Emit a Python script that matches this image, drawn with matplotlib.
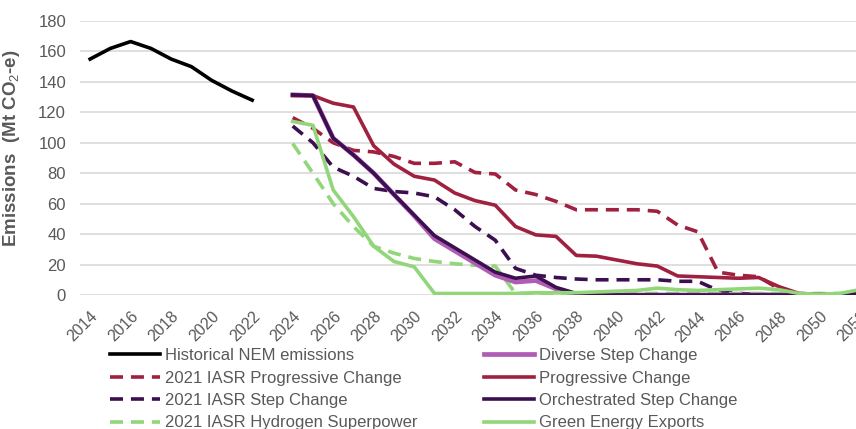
import matplotlib
matplotlib.use("Agg")
import matplotlib.pyplot as plt

plt.rcParams['font.family'] = ['Liberation Sans', 'DejaVu Sans']
plt.rcParams['mathtext.fontset'] = 'custom'
plt.rcParams['mathtext.rm'] = 'Liberation Sans'
plt.rcParams['mathtext.bf'] = 'Liberation Sans:bold'

# data (Mt CO2-e)
hist_years = list(range(2014, 2023))
hist_vals = [155, 162, 166.5, 162, 155, 150, 141, 134, 128]

proj_years = list(range(2024, 2053))
iasr_progressive = [116.5, 109.5, 100, 95, 94, 91, 86.5, 86.5, 87.5, 80.5, 79.5, 69, 66, 61.5, 56,
                    56, 56, 56, 55, 46, 41.5, 15, 13, 12, 4, 0.5, 0, 0, 0]
iasr_step = [111, 100, 84, 78, 70, 68, 67, 64.5, 56, 45, 36, 17.5, 13, 11.5, 10.5,
             10, 10, 10, 10, 9, 9, 3, 1, 0.5, 0, 0, 0, 0, 0]
iasr_hydrogen = [99.5, 80, 60, 45, 32, 27.5, 24, 22, 20.5, 19.5, 19, 1, 1, 1, 1,
                 1, 1, 1, 1, 1, 1, 1, 1, 1, 1, 1, 1, 1, 1]
diverse = [131.5, 131, 103, 92, 80, 66, 52, 37, 29, 21, 13, 8.5, 9.5, 4, 0.5,
           0, 0, 0, 0, 0, 0, 0, 0, 0, 0, 0, 0, 0, 0.5]
progressive = [131, 131, 126, 123.5, 98, 86, 78, 75.5, 67, 62, 59, 45, 39.5, 38.5, 26,
               25.5, 23, 20.5, 19, 12.5, 12, 11.5, 11, 11.5, 5.5, 1, 0.5, 0, 0]
orchestrated = [131.5, 131, 103, 92, 80, 66, 52.5, 39, 31, 23, 15, 11, 12.5, 5, 1,
                0, 0, 0, 0, 0, 0, 0, 0, 0, 0, 0, 0, 0, 1]
green_exports = [114, 111.5, 69, 51.5, 32, 22, 18.5, 1, 1, 1, 1, 1, 1.5, 1.5, 1.5,
                 2, 2.5, 3, 4.5, 3.5, 3, 3.5, 4, 4.5, 3.5, 1, 0.5, 1, 3.5]

black = '#000000'
crimson = '#A0203F'
purple = '#3B0F50'
pink = '#B05CB5'
green = '#92D67A'
grey = '#595959'

fig = plt.figure(figsize=(8.56, 4.29), dpi=100)
ax = fig.add_axes([80 / 856, 1 - 295 / 429, 790 / 856, 274 / 429])

lw = 2.6
dash = (3.6, 2.2)
ax.plot(hist_years, hist_vals, color=black, lw=lw, label='Historical NEM emissions')
ax.plot(proj_years, iasr_progressive, color=crimson, lw=lw, dashes=dash, label='2021 IASR Progressive Change')
ax.plot(proj_years, iasr_step, color=purple, lw=lw, dashes=dash, label='2021 IASR Step Change')
ax.plot(proj_years, iasr_hydrogen, color=green, lw=lw, dashes=dash, label='2021 IASR Hydrogen Superpower')
ax.plot(proj_years, diverse, color=pink, lw=lw + 0.8, label='Diverse Step Change')
ax.plot(proj_years, progressive, color=crimson, lw=lw, label='Progressive Change')
ax.plot(proj_years, orchestrated, color=purple, lw=lw, label='Orchestrated Step Change')
ax.plot(proj_years, green_exports, color=green, lw=lw, label='Green Energy Exports')

ax.set_xlim(2013.5, 2052.5)
ax.set_ylim(0, 180)
ax.set_yticks(range(0, 181, 20))
ax.set_xticks(range(2014, 2053, 2))
ax.set_xticklabels([str(y) for y in range(2014, 2053, 2)], rotation=45, ha='right',
                   rotation_mode='anchor')
ax.tick_params(axis='y', length=0, labelsize=12, colors=grey, pad=10)
ax.tick_params(axis='x', length=0, labelsize=11.5, colors=grey, pad=10)
ax.grid(axis='y', color='#D9D9D9', lw=1.2)
ax.set_axisbelow(True)
for s in ax.spines.values():
    s.set_visible(False)

ax.set_ylabel('Emissions  (Mt CO$_2$-e)', fontsize=13.5, fontweight='bold', color=grey)
ax.yaxis.set_label_coords(-0.073, 0.536)

handles, labels = ax.get_legend_handles_labels()
leg = fig.legend(handles, labels, ncol=2, loc='upper left', bbox_to_anchor=(110 / 856, 1 - 348 / 429),
                 frameon=False, fontsize=12, handlelength=3.0, handletextpad=0.3,
                 columnspacing=4.0, labelspacing=0.45, borderaxespad=0, borderpad=0)
for t in leg.get_texts():
    t.set_color(grey)

fig.savefig('out.png', dpi=100)
